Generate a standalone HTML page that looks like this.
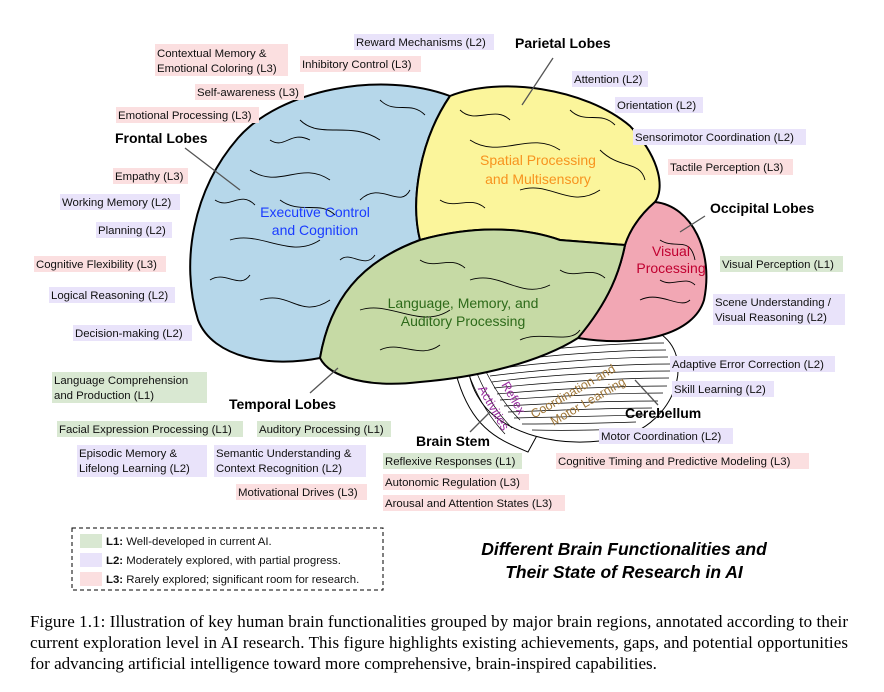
<!DOCTYPE html>
<html><head><meta charset="utf-8"><style>
body{margin:0;background:#fff;width:884px;height:692px;overflow:hidden}
svg{display:block}
.l{font:11.4px "Liberation Sans",sans-serif;fill:#111}
.b{font:bold 14px "Liberation Sans",sans-serif;fill:#000}
.g{fill:#d9e8d2}.p{fill:#e9e3fa}.k{fill:#fbdfe0}
.cap{font:17px "Liberation Serif",serif;fill:#000}
</style></head><body>
<svg width="884" height="692" viewBox="0 0 884 692">
<path d="M455,370 C470,430 500,440 528,452 L540,430 C520,410 505,390 500,375 Z" fill="#fff" stroke="#000"/>
<path d="M470,350 C520,330 620,320 662,335 C695,360 675,422 622,437 C560,452 500,432 480,400 C470,385 465,365 470,350 Z" fill="#fff" stroke="#000"/>
<g stroke="#000" stroke-width="0.7" fill="none">
<path d="M485,358 C540,348 620,343 664,343"/><path d="M486,364 C540,355 620,350 666,350"/><path d="M488,370 C540,362 620,357 668,357"/>
<path d="M490,376 C545,369 620,364 670,364"/><path d="M492,382 C545,375 620,371 670,371"/><path d="M494,388 C550,382 620,378 669,378"/>
<path d="M497,394 C550,389 620,386 667,386"/><path d="M500,400 C555,396 620,393 663,393"/><path d="M504,406 C558,403 620,401 658,401"/>
<path d="M508,412 C560,410 620,408 652,408"/><path d="M514,418 C565,417 610,416 645,415"/><path d="M522,424 C568,424 605,423 636,422"/>
<path d="M532,430 C570,431 600,430 625,429"/>
<path d="M480,360 C490,380 500,400 520,420"/><path d="M474,366 C484,392 496,412 512,428"/><path d="M468,372 C478,400 492,420 505,434"/>
</g>
<path d="M450,96 C380,70 280,90 238,138 C193,190 180,262 198,320 C213,358 270,368 320,358 C330,300 360,262 420,240 C410,200 420,140 450,96 Z" fill="#b6d7ea" stroke="#000" stroke-width="2"/>
<path d="M450,96 C500,76 585,88 630,126 C662,160 664,190 655,202 C640,215 630,230 625,245 L560,240 C520,226 470,226 420,240 C410,200 420,140 450,96 Z" fill="#fbf59b" stroke="#000" stroke-width="2"/>
<path d="M655,202 C692,206 714,252 704,300 C694,334 640,348 578,338 C610,300 620,270 625,245 C630,230 640,215 655,202 Z" fill="#f2a7b4" stroke="#000" stroke-width="2"/>
<path d="M420,240 C470,226 520,226 560,240 L625,245 C620,270 610,300 578,338 C540,362 480,377 420,382 C370,388 330,378 320,358 C330,300 360,262 420,240 Z" fill="#c6daa5" stroke="#000" stroke-width="2"/>
<g stroke="#000" stroke-width="0.9" fill="none">
<path d="M250,170 C280,190 300,160 330,180 M230,240 C260,230 290,260 320,240 M260,300 C290,290 300,320 330,300 M300,120 C320,140 350,120 380,140 M360,200 C380,180 400,210 410,190 M470,140 C500,160 530,130 560,150 M520,190 C550,180 570,210 600,190 M600,150 C620,170 640,160 645,180 M360,310 C390,300 420,330 450,310 M470,280 C500,270 520,300 550,285 M520,340 C540,330 570,345 580,330 M660,240 C675,250 690,235 695,260 M640,300 C660,290 680,310 690,300"/>
<path d="M215,200 C230,210 240,190 255,205 M210,280 C225,270 240,290 250,275 M270,140 C285,150 290,130 310,140 M380,100 C395,115 410,100 425,115 M340,260 C350,250 365,270 375,255 M280,200 C300,215 320,200 335,215 M460,110 C475,125 495,105 510,120 M570,110 C585,125 600,110 615,125 M440,200 C455,210 470,195 485,208 M380,350 C400,340 420,360 440,345 M560,270 C575,280 590,265 605,278 M420,260 C435,270 450,255 465,268 M660,280 C672,288 685,275 695,285"/>
</g>
<path d="M420,240 C470,226 520,226 560,240 L625,245" fill="none" stroke="#000" stroke-width="1" stroke-dasharray="3,2"/>
<g font-family="Liberation Sans,sans-serif" font-size="14" text-anchor="middle">
<text x="315" y="217" fill="#1a3cff">Executive Control</text><text x="315" y="235" fill="#1a3cff">and Cognition</text>
<text x="538" y="165" fill="#f7931e">Spatial Processing</text><text x="538" y="184" fill="#f7931e">and Multisensory</text>
<text x="671" y="256" fill="#c00030">Visual</text><text x="671" y="273" fill="#c00030">Processing</text>
<text x="463" y="308" fill="#2d6a1a">Language, Memory, and</text><text x="463" y="326" fill="#2d6a1a">Auditory Processing</text>
<text transform="translate(575,395) rotate(-30)" font-size="12.5" fill="#a0783a">Coordination and</text>
<text transform="translate(590,405) rotate(-30)" font-size="12.5" fill="#a0783a">Motor Learning</text>
<text transform="translate(510,400) rotate(60)" font-size="12.5" fill="#9a2fa0">Reflex</text>
<text transform="translate(490,410) rotate(60)" font-size="12.5" fill="#9a2fa0">Activities</text>
</g>
<g stroke="#555" stroke-width="1.3">
<line x1="553" y1="58" x2="522" y2="105"/><line x1="185" y1="148" x2="240" y2="190"/>
<line x1="705" y1="216" x2="680" y2="232"/><line x1="310" y1="393" x2="338" y2="368"/>
<line x1="658" y1="405" x2="635" y2="380"/><line x1="470" y1="432" x2="490" y2="412"/>
</g>
<g class="l">
<rect class="k" x="155" y="44" width="133" height="32"/><text x="157" y="57">Contextual Memory &amp;</text><text x="157" y="72">Emotional Coloring (L3)</text>
<rect class="p" x="354" y="34" width="140" height="16"/><text x="356" y="46">Reward Mechanisms (L2)</text>
<rect class="k" x="300" y="56" width="121" height="16"/><text x="302" y="68">Inhibitory Control (L3)</text>
<rect class="k" x="195" y="84" width="109" height="16"/><text x="197" y="96">Self-awareness (L3)</text>
<rect class="p" x="572" y="71" width="76" height="16"/><text x="574" y="83">Attention (L2)</text>
<rect class="p" x="615" y="97" width="88" height="16"/><text x="617" y="109">Orientation (L2)</text>
<rect class="k" x="116" y="107" width="143" height="16"/><text x="118" y="119">Emotional Processing (L3)</text>
<rect class="p" x="633" y="129" width="173" height="16"/><text x="635" y="141">Sensorimotor Coordination (L2)</text>
<rect class="k" x="668" y="159" width="125" height="16"/><text x="670" y="171">Tactile Perception (L3)</text>
<rect class="k" x="113" y="168" width="75" height="16"/><text x="115" y="180">Empathy (L3)</text>
<rect class="p" x="60" y="194" width="120" height="16"/><text x="62" y="206">Working Memory (L2)</text>
<rect class="p" x="96" y="222" width="76" height="16"/><text x="98" y="234">Planning (L2)</text>
<rect class="k" x="34" y="256" width="132" height="16"/><text x="36" y="268">Cognitive Flexibility (L3)</text>
<rect class="g" x="720" y="256" width="123" height="16"/><text x="722" y="268">Visual Perception (L1)</text>
<rect class="p" x="49" y="287" width="126" height="16"/><text x="51" y="299">Logical Reasoning (L2)</text>
<rect class="p" x="713" y="294" width="132" height="31"/><text x="715" y="306">Scene Understanding /</text><text x="715" y="321">Visual Reasoning (L2)</text>
<rect class="p" x="73" y="325" width="119" height="16"/><text x="75" y="337">Decision-making (L2)</text>
<rect class="p" x="670" y="356" width="165" height="16"/><text x="672" y="368">Adaptive Error Correction (L2)</text>
<rect class="g" x="52" y="372" width="155" height="31"/><text x="54" y="384">Language Comprehension</text><text x="54" y="399">and Production (L1)</text>
<rect class="p" x="672" y="381" width="102" height="16"/><text x="674" y="393">Skill Learning (L2)</text>
<rect class="g" x="57" y="421" width="186" height="16"/><text x="59" y="433">Facial Expression Processing (L1)</text>
<rect class="g" x="257" y="421" width="134" height="16"/><text x="259" y="433">Auditory Processing (L1)</text>
<rect class="p" x="599" y="428" width="134" height="16"/><text x="601" y="440">Motor Coordination (L2)</text>
<rect class="p" x="77" y="445" width="130" height="32"/><text x="79" y="457">Episodic Memory &amp;</text><text x="79" y="472">Lifelong Learning (L2)</text>
<rect class="p" x="214" y="445" width="152" height="32"/><text x="216" y="457">Semantic Understanding &amp;</text><text x="216" y="472">Context Recognition (L2)</text>
<rect class="g" x="383" y="453" width="139" height="16"/><text x="385" y="465">Reflexive Responses (L1)</text>
<rect class="k" x="556" y="453" width="253" height="16"/><text x="558" y="465">Cognitive Timing and Predictive Modeling (L3)</text>
<rect class="k" x="383" y="474" width="146" height="16"/><text x="385" y="486">Autonomic Regulation (L3)</text>
<rect class="k" x="236" y="484" width="131" height="16"/><text x="238" y="496">Motivational Drives (L3)</text>
<rect class="k" x="383" y="495" width="182" height="16"/><text x="385" y="507">Arousal and Attention States (L3)</text>
</g>
<g class="b">
<text x="515" y="48">Parietal Lobes</text><text x="115" y="143">Frontal Lobes</text>
<text x="710" y="213">Occipital Lobes</text><text x="229" y="409">Temporal Lobes</text>
<text x="625" y="418">Cerebellum</text><text x="416" y="446">Brain Stem</text>
</g>
<rect x="72" y="528" width="311" height="62" fill="none" stroke="#000" stroke-dasharray="4,3"/>
<g class="l">
<rect class="g" x="80" y="534" width="22" height="14"/><text x="106" y="545"><tspan font-weight="bold">L1:</tspan> Well-developed in current AI.</text>
<rect class="p" x="80" y="553" width="22" height="14"/><text x="106" y="564"><tspan font-weight="bold">L2:</tspan> Moderately explored, with partial progress.</text>
<rect class="k" x="80" y="572" width="22" height="14"/><text x="106" y="583"><tspan font-weight="bold">L3:</tspan> Rarely explored; significant room for research.</text>
</g>
<g font-family="Liberation Sans,sans-serif" font-size="17.5" font-weight="bold" font-style="italic" text-anchor="middle">
<text x="624" y="555">Different Brain Functionalities and</text>
<text x="624" y="578">Their State of Research in AI</text>
</g>
<text class="cap" x="30" y="627" textLength="818">Figure 1.1: Illustration of key human brain functionalities grouped by major brain regions, annotated according to their</text>
<text class="cap" x="30" y="648" textLength="818">current exploration level in AI research. This figure highlights existing achievements, gaps, and potential opportunities</text>
<text class="cap" x="30" y="669">for advancing artificial intelligence toward more comprehensive, brain-inspired capabilities.</text>
</svg>
</body></html>
